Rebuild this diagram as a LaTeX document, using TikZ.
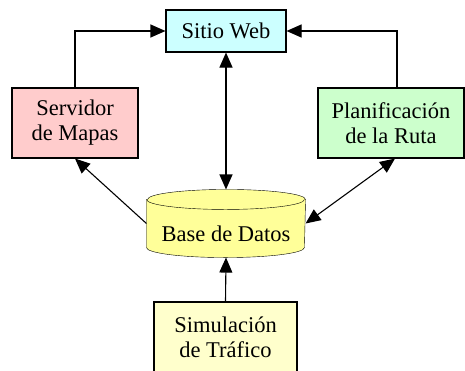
\documentclass[tikz,border=0pt]{standalone}
\usepackage{fontspec}
\setmainfont{Liberation Serif}
\usetikzlibrary{arrows.meta,calc,positioning,backgrounds}
\definecolor{webfill}{HTML}{CCFFFF}
\definecolor{mapfill}{HTML}{FFCCCC}
\definecolor{rutafill}{HTML}{CCFFCC}
\definecolor{dbfill}{HTML}{FFFF99}
\definecolor{simfill}{HTML}{FFFFCC}

\begin{document}
\begin{tikzpicture}[x=1pt,y=-1pt,
  box/.style={draw,line width=1.1pt,align=center,inner sep=0pt,
    font=\fontsize{22.5}{25}\selectfont},
  link/.style={line width=1.1pt,-{Triangle[length=15pt,width=13pt]}},
  both/.style={line width=1.1pt,{Triangle[length=15pt,width=13pt]}-{Triangle[length=15pt,width=13pt]}}]
  \path[use as bounding box] (0,0) rectangle (465,370);
  \clip (0,0) rectangle (465,370);
  % boxes
  \node[box,fill=webfill,minimum width=120pt,minimum height=42pt] (web) at (226,31) {Sitio Web};
  \node[box,fill=mapfill,minimum width=126pt,minimum height=70pt] (mapas) at (75,123) {Servidor\\de Mapas};
  \node[box,fill=rutafill,minimum width=146pt,minimum height=70pt] (ruta) at (391,123) {Planificación\\de la Ruta};
  \node[box,draw=none,minimum width=158pt,minimum height=67pt,text height=40pt,text depth=4pt] (datos) at (226,223.5) {Base de Datos};
  \node[box,fill=simfill,minimum width=143pt,minimum height=70pt] (sim) at (225.5,337) {Simulación\\de Tráfico};
  % the database cylinder
  \begin{scope}[on background layer,line width=1.1pt]
    \draw[fill=dbfill] ([yshift=-10pt]datos.north west) -- ([yshift=10pt]datos.south west)
      arc[start angle=180,end angle=360,x radius=79pt,y radius=10pt]
      -- ([yshift=-10pt]datos.north east)
      arc[start angle=0,end angle=180,x radius=79pt,y radius=10pt] -- cycle;
    \draw ([yshift=-10pt]datos.north west)
      arc[start angle=180,end angle=360,x radius=79pt,y radius=10pt];
  \end{scope}
  % connectors
  \draw[link] (mapas.north) |- (web.west);
  \draw[link] ([xshift=6pt]ruta.north) |- (web.east);
  \draw[both] (web.south) -- (datos.north);
  \draw[link] (datos.west) -- (mapas.south);
  \draw[both] (datos.east) -- ([xshift=4pt]ruta.south);
  \draw[link] (sim.north) -- (datos.south);
\end{tikzpicture}
\end{document}
